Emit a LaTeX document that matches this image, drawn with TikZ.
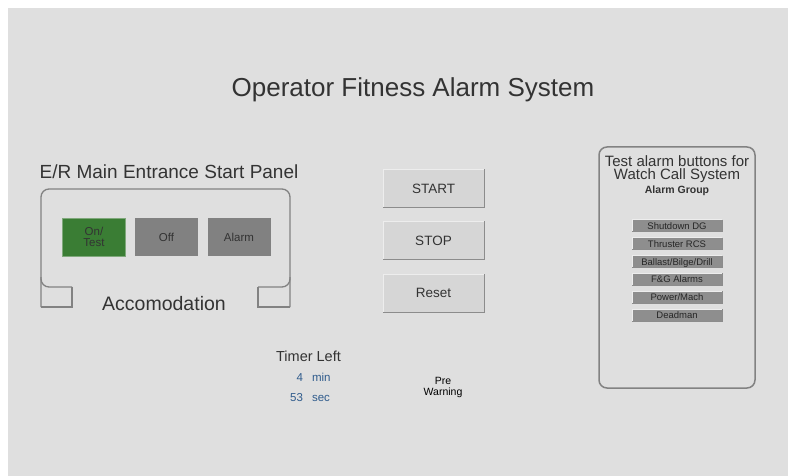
\documentclass[tikz,border=0pt]{standalone}
\usepackage{fontspec}
\setmainfont{Liberation Sans}
\definecolor{bg}{HTML}{DFDFDF}
\definecolor{txt}{HTML}{333333}
\definecolor{pline}{HTML}{828282}
\definecolor{grn}{HTML}{3A7D34}
\definecolor{grnedge}{HTML}{7FA87B}
\definecolor{gbtn}{HTML}{818181}
\definecolor{mbtn}{HTML}{D6D6D6}
\definecolor{sbtn}{HTML}{8E8E8E}
\definecolor{blu}{HTML}{2F5B8C}
\newcommand{\fs}[1]{\fontsize{#1}{#1}\selectfont}
\tikzset{
  lbl/.style={inner sep=0pt, outer sep=0pt, text=txt, anchor=base},
  panelline/.style={draw=pline, line width=1.3pt},
  pbtn/.style={inner sep=0pt, outer sep=0pt, minimum width=63pt, minimum height=38pt, text=txt, font=\fs{11.5}, align=center},
  mbtnbox/.style={inner sep=0pt, outer sep=0pt, fill=mbtn, minimum width=101pt, minimum height=38pt, text=txt, font=\fs{13.5}},
  sbtnbox/.style={inner sep=0pt, outer sep=0pt, fill=sbtn, minimum width=90pt, minimum height=12pt, text=black!85, font=\fs{9.5}, text height=.72em, text depth=0pt},
  hi/.style={draw=white!93!black, line width=1pt},
  lo/.style={draw=black!45, line width=1pt},
}
\newcommand{\bevel}[3]{%
  \draw[#2] (#1.south west) -- (#1.north west) -- (#1.north east);
  \draw[#3] (#1.north east) -- (#1.south east) -- (#1.south west);}
\begin{document}
\begin{tikzpicture}[x=1pt,y=-1pt]
\useasboundingbox (0,0) rectangle (788,476);
\fill[white] (0,0) rectangle (788,476);
\fill[bg] (8,8) rectangle (788,476);

% title
\node[lbl, font=\fs{26}] (title) at (413,97) {Operator Fitness Alarm System};

% left panel
\node[lbl, font=\fs{19}] (ertitle) at (169,178.5) {E/R Main Entrance Start Panel};
\draw[panelline, rounded corners=8pt] (41,307) -- (41,189) -- (290,189) -- (290,307);
\draw[panelline] (41,307) -- (72,307) -- (72,287);
\draw[panelline, rounded corners=8pt] (72,287) -- (41,287) -- (41,277);
\draw[panelline] (290,307) -- (258,307) -- (258,287);
\draw[panelline, rounded corners=8pt] (258,287) -- (290,287) -- (290,277);
\node[pbtn, fill=grn, draw=grnedge, line width=0.7pt] (ontest) at (94,237) {\baselineskip=11pt On/\\Test};
\node[pbtn, fill=gbtn] (off) at (166.5,237) {Off};
\node[pbtn, fill=gbtn] (alarm) at (239,237) {Alarm};
\node[lbl, font=\fs{19.5}] (accom) at (164,310) {Accomodation};

% middle buttons
\node[mbtnbox] (start) at (433.5,188.5) {START};
\node[mbtnbox] (stop) at (433.5,240.5) {STOP};
\node[mbtnbox] (reset) at (433.5,293) {Reset};
\bevel{start}{hi}{lo}
\bevel{stop}{hi}{lo}
\bevel{reset}{hi}{lo}

% timer
\node[lbl, font=\fs{14.5}] (timer) at (308.5,361.5) {Timer Left};
\node[lbl, anchor=base east, text=blu, font=\fs{11.5}] (mins) at (303,381.5) {4};
\node[lbl, anchor=base west, text=blu, font=\fs{11.5}] (minu) at (312,381.5) {min};
\node[lbl, anchor=base east, text=blu, font=\fs{11.5}] (secs) at (303,401.5) {53};
\node[lbl, anchor=base west, text=blu, font=\fs{11.5}] (secu) at (312,401.5) {sec};
\node[lbl, text=black, font=\fs{10.5}] (pre) at (443,384) {Pre};
\node[lbl, text=black, font=\fs{10.5}] (warn) at (443,395.5) {Warning};

% right panel
\draw[panelline, line width=1.5pt, rounded corners=8pt] (599,147) rectangle (755,388);
\node[lbl, font=\fs{15}] (rt1) at (677,166.5) {Test alarm buttons for};
\node[lbl, font=\fs{15}] (rt2) at (677,180) {Watch Call System};
\node[lbl, font=\bfseries\fs{10.5}] (rt3) at (677,194) {Alarm Group};
\node[sbtnbox] (b1) at (677,226) {Shutdown DG};
\node[sbtnbox] (b2) at (677,243.8) {Thruster RCS};
\node[sbtnbox] (b3) at (677,261.6) {Ballast/Bilge/Drill};
\node[sbtnbox] (b4) at (677,279.4) {F\&G Alarms};
\node[sbtnbox] (b5) at (677,297.2) {Power/Mach};
\node[sbtnbox] (b6) at (677,315) {Deadman};
\foreach \b in {b1,b2,b3,b4,b5,b6}{\bevel{\b}{hi}{lo}}
\end{tikzpicture}
\end{document}
